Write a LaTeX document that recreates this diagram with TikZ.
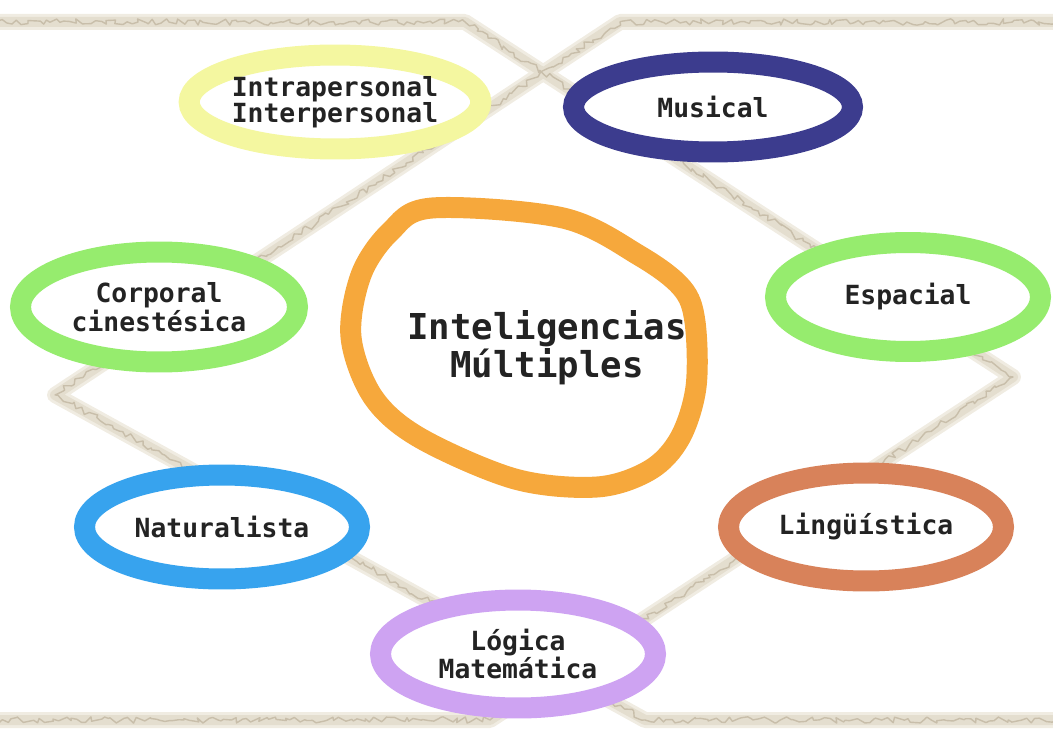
\documentclass[tikz,border=0pt]{standalone}
\usepackage{fontspec}
\setmonofont{DejaVu Sans Mono}
\usepackage{tikz}
\usetikzlibrary{shapes.geometric,decorations.pathmorphing}
\definecolor{ropetan}{RGB}{228,222,207}
\definecolor{ropepale}{RGB}{240,236,226}
\definecolor{ropedark}{RGB}{200,190,170}
\definecolor{inkgray}{RGB}{35,35,35}
\definecolor{ringyellow}{RGB}{244,247,160}
\definecolor{ringnavy}{RGB}{60,60,142}
\definecolor{ringgreen}{RGB}{150,236,110}
\definecolor{ringorange}{RGB}{246,168,60}
\definecolor{ringblue}{RGB}{55,163,238}
\definecolor{ringbrown}{RGB}{216,130,90}
\definecolor{ringlilac}{RGB}{206,163,242}
\tikzstyle{bubble} = [ellipse, line width=0.42cm, fill=white, inner sep=0pt, align=center, text=inkgray, font=\ttfamily\bfseries\fontsize{15}{15}\selectfont, minimum width=5.5cm, minimum height=2.16cm]
\tikzstyle{hubring} = [draw=ringorange, line width=0.42cm, fill=white]
\tikzstyle{hubtext} = [align=center, text=inkgray, font=\ttfamily\bfseries\fontsize{20.3}{18.7}\selectfont]
\tikzstyle{ropehalo} = [draw=ropepale, line width=0.32cm, line join=round]
\tikzstyle{rope} = [draw=ropetan, line width=0.2cm, line join=round]
\tikzstyle{ropegrain} = [draw=ropedark, line width=0.8pt, line join=round, decorate, decoration={random steps, segment length=2.5pt, amplitude=1.8pt}]

\begin{document}
\begin{tikzpicture}[x=0.02cm, y=-0.02cm]
\clip (0,0) rectangle (1053,736);

% Rope corners
\coordinate (tl) at (-10,22);
\coordinate (tlk) at (465,22);
\coordinate (ek) at (1013,377);
\coordinate (blk) at (490,720);
\coordinate (bl) at (-10,720);
\coordinate (tr) at (1063,22);
\coordinate (trk) at (620,22);
\coordinate (wk) at (55,395);
\coordinate (brk) at (645,720);
\coordinate (br) at (1063,720);

% Rope
\draw [ropehalo] (tl) -- (tlk) -- (ek) -- (blk) -- (bl);
\draw [ropehalo] (tr) -- (trk) -- (wk) -- (brk) -- (br);
\draw [rope] (tl) -- (tlk) -- (ek) -- (blk) -- (bl);
\draw [rope] (tr) -- (trk) -- (wk) -- (brk) -- (br);
\draw [ropegrain] (tl) -- (tlk) -- (ek) -- (blk) -- (bl);
\draw [ropegrain] (tr) -- (trk) -- (wk) -- (brk) -- (br);

% Nodes
\node (intra) [bubble, draw=ringyellow, minimum width=5.38cm, minimum height=1.88cm] at (335,102) {Intrapersonal\\Interpersonal};
\node (musical) [bubble, draw=ringnavy, minimum width=5.58cm, minimum height=1.8cm] at (713,107) {Musical};
\node (corporal) [bubble, draw=ringgreen, minimum width=5.54cm, minimum height=2.2cm] at (159,307) {Corporal\\cinestésica};
\node (espacial) [bubble, draw=ringgreen, minimum width=5.3cm, minimum height=2.18cm] at (908,297) {Espacial};
\node (ling) [bubble, draw=ringbrown] at (866,527) {Lingüística};
\node (natur) [bubble, draw=ringblue, minimum height=2.08cm] at (222,527) {Naturalista};
\node (logica) [bubble, draw=ringlilac] at (518,654) {Lógica\\Matemática};

% Centre
\draw [hubring] plot [smooth cycle, tension=0.55] coordinates {(390,232) (432,208) (563,218) (640,256) (682,288) (695,322) (696,387) (680,438) (650,470) (597,487) (515,479) (420,438) (373,397) (351,337) (361,275)};
\node (im) [hubtext] at (547,348) {Inteligencias\\Múltiples};

\end{tikzpicture}
\end{document}
